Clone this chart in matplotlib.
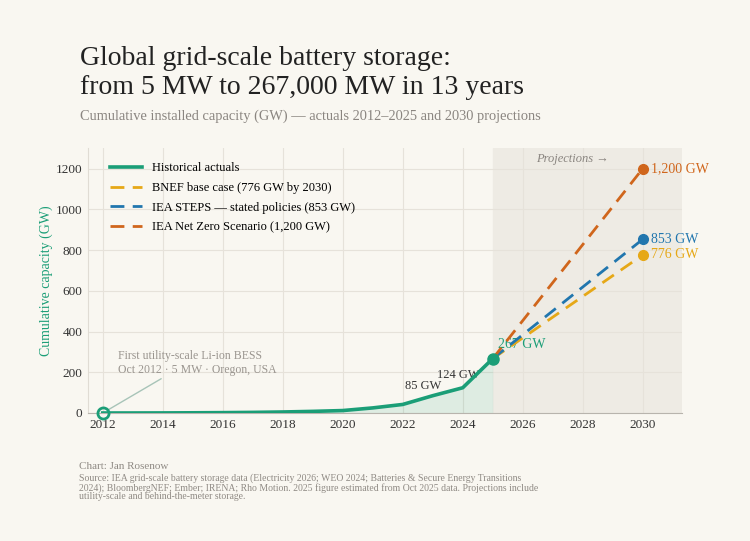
import matplotlib
matplotlib.use('Agg')
from matplotlib import pyplot

# Data
hist_years = [2012, 2013, 2014, 2015, 2016, 2017, 2018, 2019, 2020, 2021, 2022, 2023, 2024, 2025]
hist_gw = [0.005, 0.1, 0.4, 1, 1.8, 3, 5, 8, 12, 25, 42, 85, 124, 267]
proj_years = [2025, 2030]
bnef_gw = [267, 776]
steps_gw = [267, 853]
nze_gw = [267, 1200]
x_ticks = [2012, 2014, 2016, 2018, 2020, 2022, 2024, 2026, 2028, 2030]
y_ticks = [0, 200, 400, 600, 800, 1000, 1200]

BG = '#f9f7f1'
GREEN = '#1b9e77'
YELLOW = '#e6a817'
BLUE = '#2176ae'
ORANGE = '#d0661c'
GRAY = '#8a8580'
SERIF = ['Liberation Serif', 'DejaVu Serif']

pyplot.rcParams['font.family'] = SERIF

fig = pyplot.figure(figsize=(7.5, 5.41), dpi=100, facecolor=BG)
ax = fig.add_axes([0.117, 0.2366, 0.792, 0.4894])
ax.set_facecolor(BG)

# projection shading
ax.axvspan(2025, 2031.3, color='#eeebe4', zorder=0)
ax.text(2027.65, 1245, 'Projections \u2192', style='italic', color=GRAY, fontsize=9, ha='center', va='center')

# historical
ax.fill_between(hist_years, hist_gw, color=GREEN, alpha=0.12, linewidth=0, zorder=1)
ax.plot(hist_years, hist_gw, color=GREEN, linewidth=2.6, label='Historical actuals', zorder=4)

# projections
ax.plot(proj_years, bnef_gw, color=YELLOW, linewidth=2, dashes=(5, 3), label='BNEF base case (776 GW by 2030)', zorder=3)
ax.plot(proj_years, steps_gw, color=BLUE, linewidth=2, dashes=(5, 3), label='IEA STEPS \u2014 stated policies (853 GW)', zorder=3)
ax.plot(proj_years, nze_gw, color=ORANGE, linewidth=2, dashes=(5, 3), label='IEA Net Zero Scenario (1,200 GW)', zorder=3)

for vals, col, lab in [(nze_gw, ORANGE, '1,200 GW'), (steps_gw, BLUE, '853 GW'), (bnef_gw, YELLOW, '776 GW')]:
    ax.plot(proj_years[-1], vals[-1], 'o', color=col, markersize=7, zorder=5)
    ax.annotate(lab, (proj_years[-1], vals[-1]), xytext=(6, 0), textcoords='offset points',
                color=col, fontsize=10, va='center', ha='left')

# key points
ax.plot(hist_years[-1], hist_gw[-1], 'o', color=GREEN, markersize=8, zorder=6)
ax.plot(hist_years[0], hist_gw[0], 'o', markerfacecolor='none', markeredgecolor=GREEN,
        markeredgewidth=2, markersize=8, zorder=6, clip_on=False)
ax.annotate('267 GW', (hist_years[-1], hist_gw[-1]), xytext=(4, 10), textcoords='offset points',
            color=GREEN, fontsize=10, va='center', ha='left', zorder=2)
ax.annotate('85 GW', (hist_years[11], hist_gw[11]), xytext=(-7, 7), textcoords='offset points',
            color='#333333', fontsize=9, va='center', ha='center')
ax.annotate('124 GW', (hist_years[12], hist_gw[12]), xytext=(-3, 9), textcoords='offset points',
            color='#333333', fontsize=9, va='center', ha='center')
ax.annotate('First utility-scale Li-ion BESS\nOct 2012 \u00b7 5 MW \u00b7 Oregon, USA',
            (hist_years[0], hist_gw[0]), xytext=(2012.52, 182), textcoords='data',
            color='#9a958f', fontsize=8.5, ha='left', va='bottom', linespacing=1.2,
            arrowprops=dict(arrowstyle='-', color='#a8c4b8', lw=1, shrinkA=0, shrinkB=4,
                            relpos=(0.3, 0)))

ax.set_xlim(2011.5, 2031.3)
ax.set_ylim(0, 1300)
ax.set_xticks(x_ticks)
ax.set_yticks(y_ticks)
ax.tick_params(length=0, labelsize=9.5, colors='#333333', pad=4)
ax.grid(color='#e6e2da', linewidth=0.8)
ax.set_axisbelow(True)
for s in ['top', 'right']:
    ax.spines[s].set_visible(False)
ax.spines['left'].set_color('#e0dcd4')
ax.spines['bottom'].set_color('#b8b4ad')
ax.set_ylabel('Cumulative capacity (GW)', color=GREEN, fontsize=10, labelpad=2)

leg = ax.legend(loc='upper left', frameon=False, fontsize=9, handlelength=2.6,
                labelspacing=0.62, bbox_to_anchor=(0.018, 0.99))

# titles
fig.text(0.107, 0.915, 'Global grid-scale battery storage:\nfrom 5 MW to 267,000 MW in 13 years',
         fontsize=20, color='#222222', ha='left', va='top', linespacing=1.22)
fig.text(0.107, 0.785, 'Cumulative installed capacity (GW) \u2014 actuals 2012\u20132025 and 2030 projections',
         fontsize=10.4, color=GRAY, ha='left', va='center')
fig.text(0.105, 0.137, 'Chart: Jan Rosenow', fontsize=8, color='#8f8a84', ha='left', va='center')
fig.text(0.105, 0.125,
         'Source: IEA grid-scale battery storage data (Electricity 2026; WEO 2024; Batteries & Secure Energy Transitions\n'
         '2024); BloombergNEF; Ember; IRENA; Rho Motion. 2025 figure estimated from Oct 2025 data. Projections include\n'
         'utility-scale and behind-the-meter storage.',
         fontsize=7, color='#8f8a84', ha='left', va='top', linespacing=0.95)

fig.savefig('out.png', dpi=100, facecolor=BG)
